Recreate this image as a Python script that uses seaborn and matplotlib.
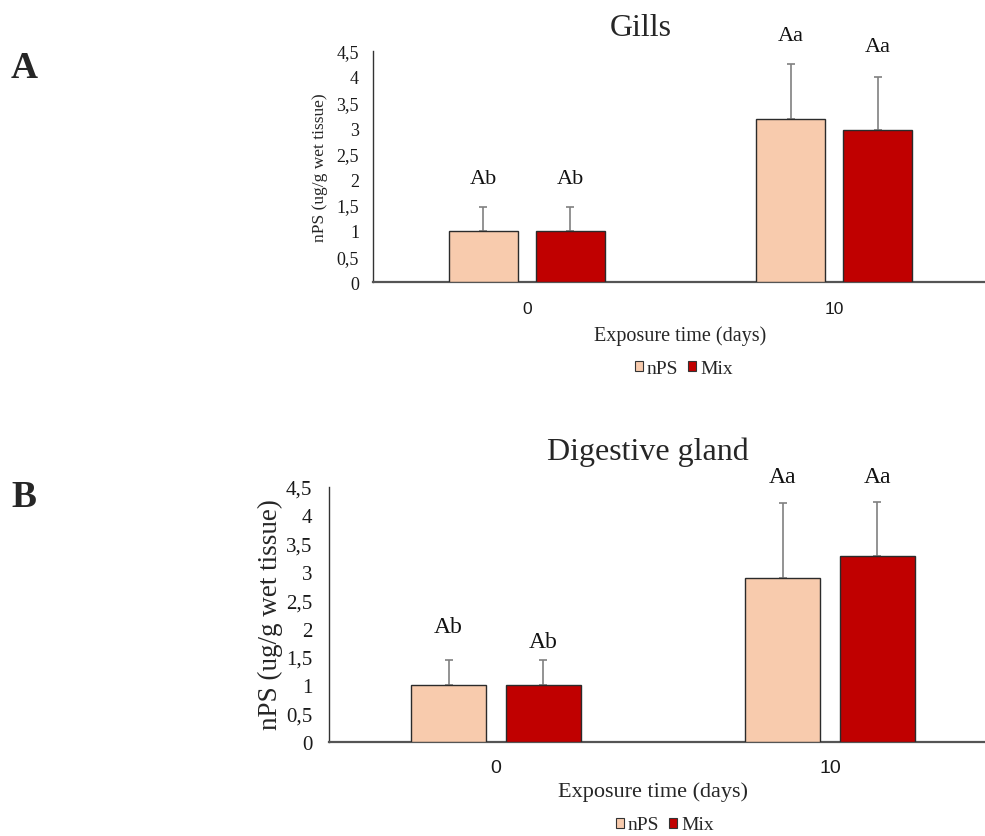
import numpy as np
import pandas as pd
import seaborn as sns
import matplotlib.pyplot as plt
from matplotlib.patches import Patch

# ---- data -------------------------------------------------------------
days = ["0", "10"]
groups = ["nPS", "Mix"]

gills_nps = [1.00, 3.17]
gills_nps_sd = [0.46, 1.07]
gills_mix = [1.00, 2.96]
gills_mix_sd = [0.46, 1.04]

gland_nps = [1.00, 2.89]
gland_nps_sd = [0.45, 1.33]
gland_mix = [1.00, 3.29]
gland_mix_sd = [0.45, 0.95]

# significance letters: [nPS day 0, nPS day 10], [Mix day 0, Mix day 10]
gills_letters = [["Ab", "Aa"], ["Ab", "Aa"]]
gland_letters = [["Ab", "Aa"], ["Ab", "Aa"]]

ytick_values = [0, 0.5, 1, 1.5, 2, 2.5, 3, 3.5, 4, 4.5]
ytick_labels = ["0", "0,5", "1", "1,5", "2", "2,5", "3", "3,5", "4", "4,5"]

colors = {"nPS": "#F8CBAD", "Mix": "#C00000"}

# ---- style ------------------------------------------------------------
sns.set_theme(style="white")
plt.rcParams["font.family"] = ["Liberation Serif", "DejaVu Serif"]
SERIF = "Liberation Serif"
SANS = "Liberation Sans"

W, H = 985, 837
fig = plt.figure(figsize=(W / 100, H / 100), dpi=100)


def fx(x):
    return x / W


def fy(y):
    return 1 - y / H


def add_px_axes(left, right, top, bottom):
    return fig.add_axes([fx(left), fy(bottom), (right - left) / W, (bottom - top) / H])


def panel(ax, nps, nps_sd, mix, mix_sd, letters, letter_y, letter_fs,
          tick_fs, tick_pad, cat_fs, cat_pad):
    df = pd.DataFrame({
        "day": days * 2,
        "group": [groups[0]] * len(days) + [groups[1]] * len(days),
        "value": list(nps) + list(mix),
    })
    sns.barplot(data=df, x="day", y="value", hue="group", order=days,
                hue_order=groups, palette=colors, saturation=1,
                width=0.567, gap=0.207, errorbar=None,
                edgecolor="#2b2b2b", linewidth=1.0,
                legend=False, ax=ax, zorder=3)
    sds = [nps_sd, mix_sd]
    means = [nps, mix]
    bar_groups = list(ax.containers)
    for gi, cont in enumerate(bar_groups):
        xs = [b.get_x() + b.get_width() / 2 for b in cont]
        ax.errorbar(xs, means[gi], yerr=[np.zeros(len(xs)), sds[gi]], fmt="none",
                    ecolor="#808080", elinewidth=1.2, capsize=3, capthick=1.2,
                    zorder=2)
        for j, x in enumerate(xs):
            ax.text(x, letter_y[gi][j], letters[gi][j], ha="center", va="center",
                    fontsize=letter_fs, family=SERIF, color="#111111")
    ax.set_xlim(-0.5, 1.5)
    ax.set_ylim(0, 4.5)
    ax.set_yticks(ytick_values)
    ax.set_yticklabels(ytick_labels, family=SERIF, fontsize=tick_fs)
    ax.set_xticks(range(len(days)))
    ax.set_xticklabels(days, family=SANS, fontsize=cat_fs)
    ax.tick_params(axis="both", length=0, colors="#1a1a1a")
    ax.tick_params(axis="y", pad=tick_pad)
    ax.tick_params(axis="x", pad=cat_pad)
    ax.set_xlabel("")
    ax.set_ylabel("")
    for s in ("top", "right"):
        ax.spines[s].set_visible(False)
    ax.spines["left"].set_color("#333333")
    ax.spines["bottom"].set_color("#555555")
    ax.spines["left"].set_linewidth(1.0)
    ax.spines["bottom"].set_linewidth(1.6)
    ax.set_facecolor("white")


# ---- panel A: gills ---------------------------------------------------
axA = add_px_axes(373, 988, 52, 283)
panel(axA, gills_nps, gills_nps_sd, gills_mix, gills_mix_sd, gills_letters,
      [[2.01, 4.80], [2.01, 4.59]], letter_fs=16,
      tick_fs=13, tick_pad=10, cat_fs=12.5, cat_pad=14)

# ---- panel B: digestive gland -----------------------------------------
axB = add_px_axes(329, 997, 488, 743)
panel(axB, gland_nps, gland_nps_sd, gland_mix, gland_mix_sd, gland_letters,
      [[2.03, 4.68], [1.77, 4.68]], letter_fs=17,
      tick_fs=15, tick_pad=12, cat_fs=14, cat_pad=12)

# ---- titles, axis labels, legends -------------------------------------
fig.text(fx(641), fy(28), "Gills", ha="center", va="center", fontsize=23, family=SERIF)
fig.text(fx(648), fy(452), "Digestive gland", ha="center", va="center", fontsize=23, family=SERIF)

fig.text(fx(24), fy(69), "A", ha="center", va="center", fontsize=27, weight="bold", family=SERIF)
fig.text(fx(24), fy(498), "B", ha="center", va="center", fontsize=27, weight="bold", family=SERIF)

fig.text(fx(320), fy(168), "nPS (ug/g wet tissue)", ha="center", va="center",
         rotation=90, fontsize=12.5, family=SERIF)
fig.text(fx(270), fy(615), "nPS (ug/g wet tissue)", ha="center", va="center",
         rotation=90, fontsize=19.5, family=SERIF)

fig.text(fx(680), fy(336), "Exposure time (days)", ha="center", va="center", fontsize=14.5, family=SERIF)
fig.text(fx(653), fy(792), "Exposure time (days)", ha="center", va="center", fontsize=16, family=SERIF)

handles = [Patch(facecolor=colors[g], edgecolor="#333333", linewidth=0.8, label=g) for g in groups]
for cx, cy in ((684, 369), (665, 826)):
    fig.legend(handles=handles, loc="center", bbox_to_anchor=(fx(cx), fy(cy)),
               ncol=2, frameon=False, handlelength=0.42, handleheight=0.42,
               handletextpad=0.2, columnspacing=0.5, borderpad=0,
               prop={"family": SERIF, "size": 14})

fig.savefig("out.png", dpi=100, facecolor="white")
